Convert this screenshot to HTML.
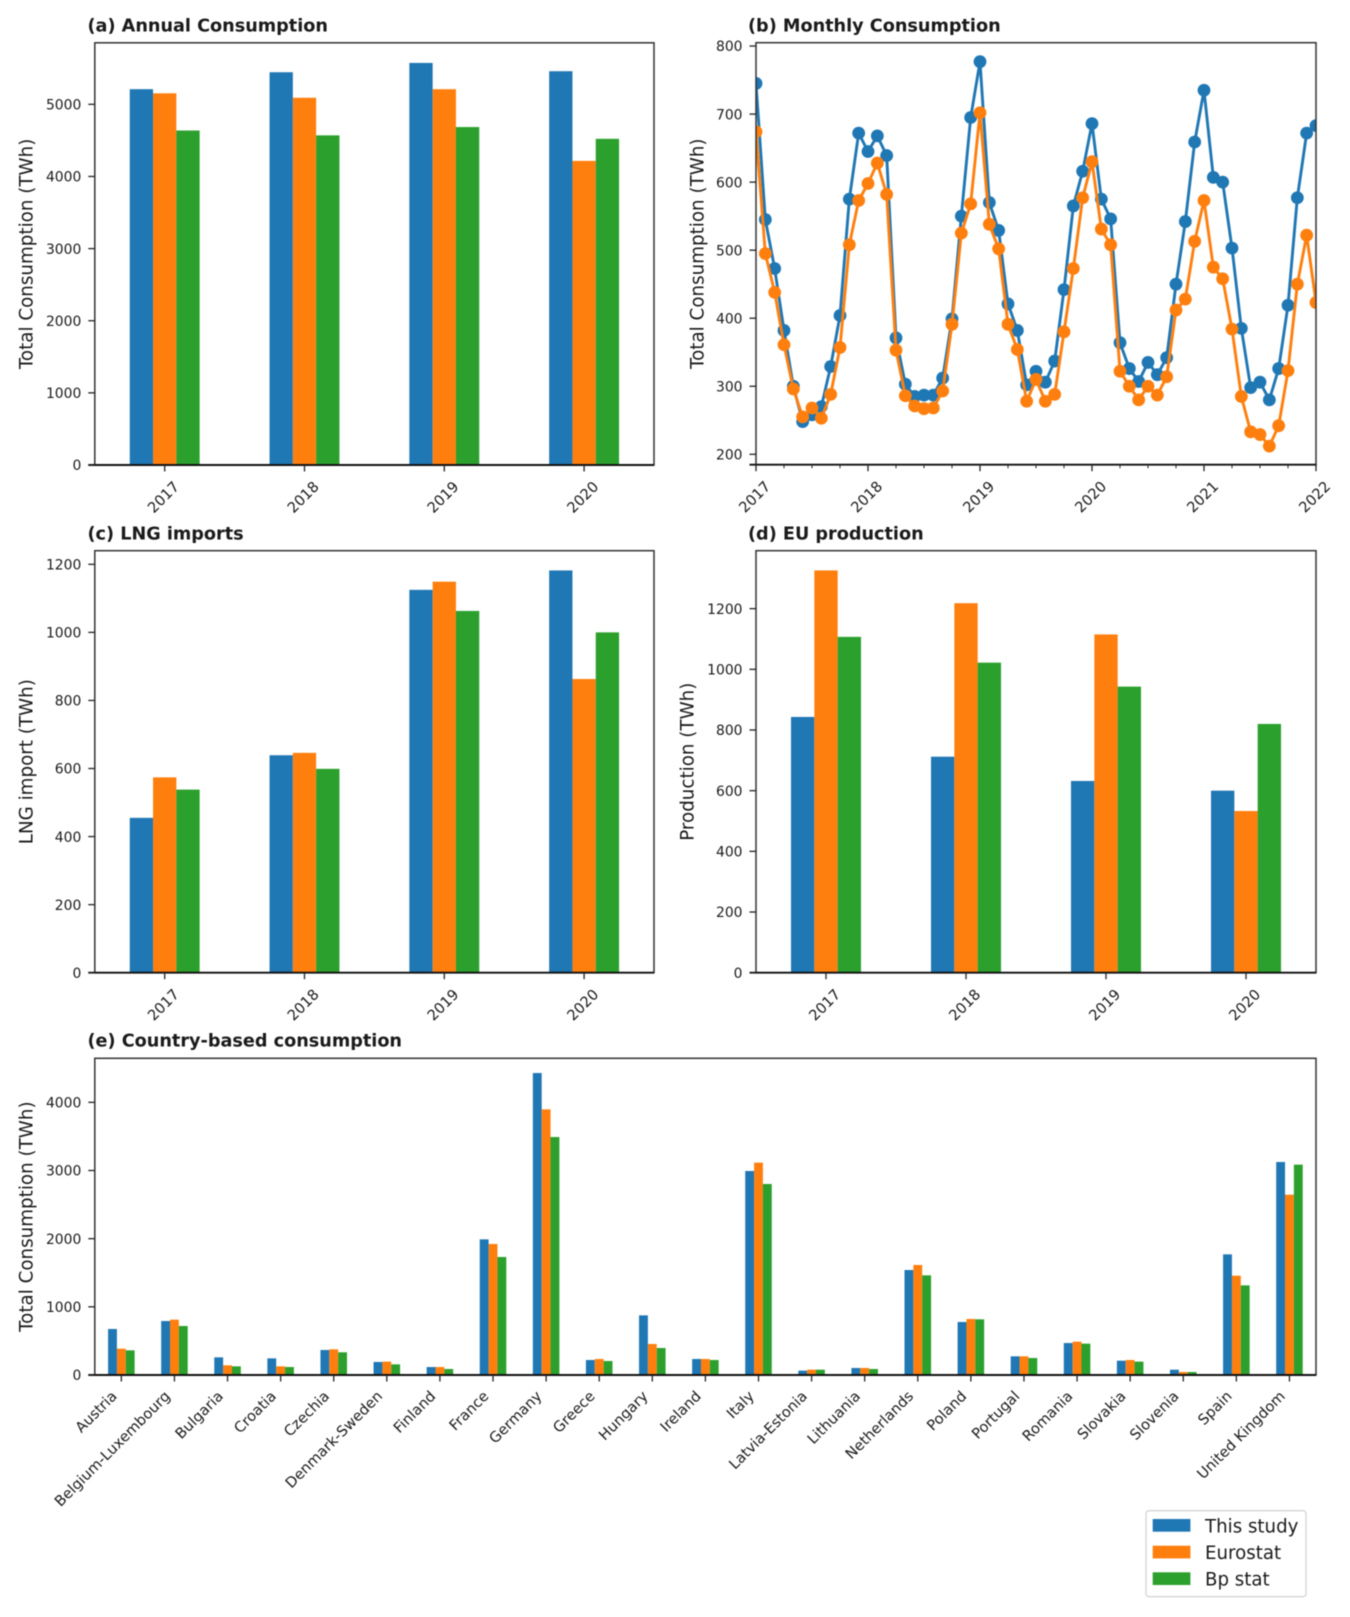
<!DOCTYPE html>
<html lang="en">
<head>
<meta charset="utf-8">
<title>European gas consumption comparison</title>
<style>
html,body{margin:0;padding:0;background:#fff;width:1350px;height:1617px;overflow:hidden}
svg{display:block;filter:blur(0.45px)}
text{font-family:"DejaVu Sans","Liberation Sans",sans-serif;fill:#1a1a1a}
</style>
</head>
<body>
<svg id="figure" xmlns="http://www.w3.org/2000/svg" width="1350" height="1617" viewBox="0 0 1350 1617">
<rect width="1350" height="1617" fill="#ffffff"/>
<defs><clipPath id="clip-b"><rect x="756" y="42.7" width="560" height="422"/></clipPath></defs>
<g>
<rect x="1146" y="1510.7" width="160" height="86" rx="3" fill="#fff" stroke="#d4d4d4" stroke-width="1.3"/>
<rect x="1152.7" y="1519" width="37.7" height="12.7" fill="#1f77b4"/>
<text x="1205" y="1532.5" font-size="18.2">This study</text>
<rect x="1152.7" y="1545.7" width="37.7" height="12.7" fill="#ff7f0e"/>
<text x="1205" y="1559" font-size="18.2">Eurostat</text>
<rect x="1152.7" y="1572.3" width="37.7" height="12.7" fill="#2ca02c"/>
<text x="1205" y="1585.5" font-size="18.2">Bp stat</text>
</g>
</svg>
<script>
// Category and tick arrays
const years = ['2017', '2018', '2019', '2020'];
const monthlyTickLabels = ['2017', '2018', '2019', '2020', '2021', '2022'];
const countries = ['Austria', 'Belgium-Luxembourg', 'Bulgaria', 'Croatia', 'Czechia', 'Denmark-Sweden', 'Finland', 'France', 'Germany', 'Greece', 'Hungary', 'Ireland', 'Italy', 'Latvia-Estonia', 'Lithuania', 'Netherlands', 'Poland', 'Portugal', 'Romania', 'Slovakia', 'Slovenia', 'Spain', 'United Kingdom'];
const ticksA = [0, 1000, 2000, 3000, 4000, 5000];
const ticksB = [200, 300, 400, 500, 600, 700, 800];
const ticksC = [0, 200, 400, 600, 800, 1000, 1200];
const ticksD = [0, 200, 400, 600, 800, 1000, 1200];
const ticksE = [0, 1000, 2000, 3000, 4000];

// (a) Annual consumption
const annualStudy = [5210, 5445, 5574, 5459];
const annualEurostat = [5153, 5091, 5210, 4216];
const annualBp = [4637, 4570, 4685, 4522];

// (b) Monthly consumption, Jan 2017 to Jan 2022
const monthlyStudy = [745, 545, 473, 382, 300, 248, 258, 270, 329, 404, 575, 672, 645, 668, 639, 371, 303, 285, 287, 287, 312, 399, 550, 695, 777, 570, 529, 421, 382, 302, 322, 306, 337, 442, 565, 616, 686, 575, 546, 364, 326, 307, 335, 317, 342, 450, 542, 659, 735, 607, 600, 503, 385, 298, 306, 280, 326, 419, 577, 672, 683];
const monthlyEurostat = [674, 495, 438, 361, 296, 255, 268, 253, 288, 357, 508, 573, 598, 628, 582, 353, 286, 271, 267, 268, 293, 391, 525, 568, 702, 538, 502, 391, 354, 278, 310, 278, 288, 380, 473, 577, 630, 531, 508, 322, 300, 280, 300, 287, 314, 412, 428, 513, 573, 475, 458, 384, 285, 233, 229, 212, 242, 323, 450, 522, 423];

// (c) LNG imports
const lngStudy = [455, 639, 1125, 1182];
const lngEurostat = [574, 646, 1149, 863];
const lngBp = [538, 599, 1063, 1000];

// (d) EU production
const productionStudy = [843, 712, 632, 600];
const productionEurostat = [1326, 1218, 1115, 533];
const productionBp = [1107, 1022, 943, 820];

// (e) Country-based consumption
const countryStudy = [675, 792, 259, 244, 367, 191, 117, 1990, 4430, 220, 875, 235, 2993, 64, 103, 1540, 778, 274, 469, 210, 78, 1770, 3125];
const countryEurostat = [386, 812, 142, 127, 377, 196, 117, 1922, 3897, 235, 455, 235, 3115, 78, 103, 1614, 822, 274, 489, 220, 44, 1457, 2645];
const countryBp = [362, 719, 127, 117, 333, 156, 88, 1731, 3491, 205, 396, 220, 2802, 78, 88, 1462, 817, 249, 460, 196, 44, 1315, 3086];

const blue = '#1f77b4', orange = '#ff7f0e', green = '#2ca02c';
const svg = document.getElementById('figure');
const NS = 'http://www.w3.org/2000/svg';

function make(tag, attrs, parent) {
  const node = document.createElementNS(NS, tag);
  for (const k in attrs) node.setAttribute(k, attrs[k]);
  parent.appendChild(node);
  return node;
}
function yScale(frame, domain) {
  return v => frame.bottom - (v - domain[0]) / (domain[1] - domain[0]) * (frame.bottom - frame.top);
}
function drawYAxis(g, frame, y, ticks, title, titleX) {
  ticks.forEach(t => {
    const tick = make('line', {x1: frame.left - 6.5, x2: frame.left, y1: y(t), y2: y(t), stroke: '#222', 'stroke-width': 1.3}, g);
    
    
    const label = make('text', {x: frame.left - 13.5, y: y(t) + 5.2, 'text-anchor': 'end', 'font-size': 13.9}, g);
    label.textContent = String(t);
    
    
  });
  const cy = (frame.top + frame.bottom) / 2;
  const axisTitle = make('text', {x: titleX, y: cy, 'text-anchor': 'middle', 'dominant-baseline': 'central', 'font-size': 18.3, transform: 'rotate(-90 ' + titleX + ' ' + cy + ')'}, g);
  axisTitle.textContent = title;
  
  
}
function drawSpines(g, frame) {
  const box = make('rect', {x: frame.left, y: frame.top, width: frame.right - frame.left, height: frame.bottom - frame.top, fill: 'none', stroke: '#333', 'stroke-width': 1.5}, g);
  
  
  const base = make('line', {x1: frame.left - 6.5, x2: frame.right, y1: frame.bottom, y2: frame.bottom, stroke: '#111', 'stroke-width': 1.9}, g);
  
  
}
function drawTitle(g, text, x, y) {
  const t = make('text', {x: x, y: y, 'font-size': 17.65, 'font-weight': 'bold', fill: '#000'}, g);
  t.textContent = text;
  
  
}
function drawBars(g, frame, categories, seriesList, domain, ticks, title, titleX, labelMode) {
  const y = yScale(frame, domain);
  const step = (frame.right - frame.left) / categories.length;
  const xCenter = i => frame.left + (i + 0.5) * step;
  const barWidth = step * 0.5 / 3;
  const seriesNames = ['this-study', 'eurostat', 'bp-stat'];
  const colors = [blue, orange, green];
  seriesList.forEach((vals, s) => {
    vals.forEach((v, i) => {
      const bar = make('rect', {x: xCenter(i) + (s - 1.5) * barWidth, y: y(v), width: barWidth, height: y(domain[0]) - y(v), fill: colors[s]}, g);
      
      
    });
  });
  drawSpines(g, frame);
  drawYAxis(g, frame, y, ticks, title, titleX);
  categories.forEach((c, i) => {
    const x = xCenter(i);
    const tick = make('line', {x1: x, x2: x, y1: frame.bottom, y2: frame.bottom + 6.5, stroke: '#222', 'stroke-width': 1.3}, g);
    
    
    let label;
    if (labelMode === 'center') {
      const lx = x - 1, ly = frame.bottom + 32.5;
      label = make('text', {x: lx, y: ly, 'text-anchor': 'middle', 'dominant-baseline': 'central', 'font-size': 14.6, transform: 'rotate(-45 ' + lx + ' ' + ly + ')'}, g);
    } else {
      const lx = x - 3.5, ly = frame.bottom + 22;
      label = make('text', {x: lx, y: ly, 'text-anchor': 'end', 'font-size': 14.6, transform: 'rotate(-45 ' + lx + ' ' + ly + ')'}, g);
    }
    label.textContent = c;
    
    
  });
}
function drawMonthly(g, frame, domain) {
  const y = yScale(frame, domain);
  const x = m => frame.left + m / 60 * (frame.right - frame.left);
  const plot = make('g', {'clip-path': 'url(#clip-b)'}, g);
  
  
  [[monthlyStudy, blue, 'this-study'], [monthlyEurostat, orange, 'eurostat']].forEach(spec => {
    const line = make('polyline', {points: spec[0].map((v, m) => x(m) + ',' + y(v)).join(' '), fill: 'none', stroke: spec[1], 'stroke-width': 2.9, 'stroke-linejoin': 'round'}, plot);
    
    
    spec[0].forEach((v, m) => {
      const dot = make('circle', {cx: x(m), cy: y(v), r: 6.4, fill: spec[1]}, plot);
      
      
    });
  });
  drawSpines(g, frame);
  drawYAxis(g, frame, y, ticksB, 'Total Consumption (TWh)', 698);
  for (let m = 0; m <= 60; m += 3) {
    const major = m % 12 === 0;
    const tick = make('line', {x1: x(m), x2: x(m), y1: frame.bottom, y2: frame.bottom + (major ? 6.5 : 3.6), stroke: '#222', 'stroke-width': major ? 1.3 : 1}, g);
    
    
  }
  monthlyTickLabels.forEach((c, i) => {
    const lx = x(i * 12) - 1, ly = frame.bottom + 32.5;
    const label = make('text', {x: lx, y: ly, 'text-anchor': 'middle', 'dominant-baseline': 'central', 'font-size': 14.6, transform: 'rotate(-45 ' + lx + ' ' + ly + ')'}, g);
    label.textContent = c;
    
    
  });
}

const gA = make('g', {}, svg);


drawBars(gA, {left: 94.8, right: 654, top: 42.8, bottom: 465}, years, [annualStudy, annualEurostat, annualBp], [0, 5853], ticksA, 'Total Consumption (TWh)', 27, 'center');
drawTitle(gA, '(a) Annual Consumption', 87.5, 31.5);

const gB = make('g', {}, svg);


drawMonthly(gB, {left: 756, right: 1316, top: 42.7, bottom: 464.7}, [184.7, 804.9]);
drawTitle(gB, '(b) Monthly Consumption', 748, 31.5);

const gC = make('g', {}, svg);


drawBars(gC, {left: 94.8, right: 654, top: 550.7, bottom: 972.7}, years, [lngStudy, lngEurostat, lngBp], [0, 1240], ticksC, 'LNG import (TWh)', 27, 'center');
drawTitle(gC, '(c) LNG imports', 87.5, 539.5);

const gD = make('g', {}, svg);


drawBars(gD, {left: 756, right: 1316, top: 550.7, bottom: 972.7}, years, [productionStudy, productionEurostat, productionBp], [0, 1391], ticksD, 'Production (TWh)', 688, 'center');
drawTitle(gD, '(d) EU production', 748, 539.5);

const gE = make('g', {}, svg);


drawBars(gE, {left: 94.8, right: 1316, top: 1058.3, bottom: 1375}, countries, [countryStudy, countryEurostat, countryBp], [0, 4646], ticksE, 'Total Consumption (TWh)', 27, 'end');
drawTitle(gE, '(e) Country-based consumption', 87.5, 1046.5);
</script>
</body>
</html>
